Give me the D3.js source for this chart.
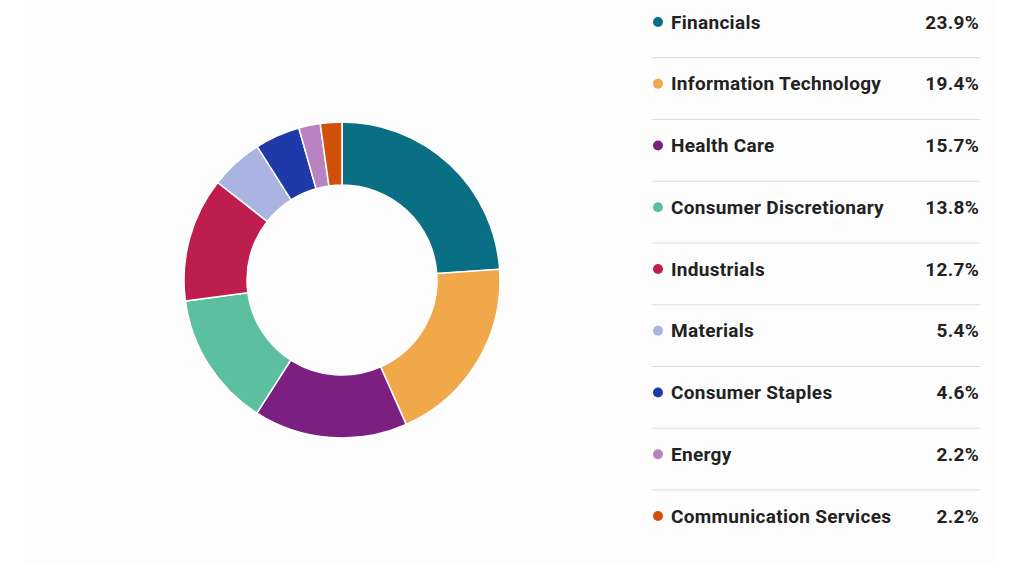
<!DOCTYPE html>
<html>
<head>
<meta charset="utf-8">
<script src="https://cdn.jsdelivr.net/npm/d3@7"></script>
<style>
  html, body { margin: 0; padding: 0; background: #ffffff; }
  svg { display: block; }
</style>
</head>
<body>
<div id="chart"></div>
<script>
const sectors = ["Financials", "Information Technology", "Health Care", "Consumer Discretionary",
    "Industrials", "Materials", "Consumer Staples", "Energy", "Communication Services"];
const weights = [23.9, 19.4, 15.7, 13.8, 12.7, 5.4, 4.6, 2.2, 2.2];
const colors = ["#0a6e84", "#f0a84a", "#7b1f80", "#5bbfa0", "#be1e4e",
    "#a9b4e0", "#1e3aa8", "#b883c0", "#d0500a"];

const width = 1024, height = 576;

const svg = d3.select("#chart")
    .append("svg")
    .attr("width", width)
    .attr("height", height);

// very faint panel behind everything
svg.append("rect")
    .attr("x", 24).attr("y", 0)
    .attr("width", 974).attr("height", 566)
    .attr("fill", "#fdfdfd");

const color = d3.scaleOrdinal(sectors, colors);

const pie = d3.pie().sort(null).value(d => d.value);
const arc = d3.arc().innerRadius(95).outerRadius(158);

const data = sectors.map((s, i) => ({ name: s, value: weights[i] }));

svg.append("g")
    .attr("transform", "translate(342,280)")
    .selectAll("path")
    .data(pie(data))
    .join("path")
    .attr("d", arc)
    .attr("fill", d => color(d.data.name))
    .attr("stroke", "#ffffff")
    .attr("stroke-width", 1.5);

// legend table
const rowY = d3.scalePoint(sectors, [22, 516]);

const legend = svg.append("g").attr("class", "legend");

legend.selectAll("line")
    .data(sectors.slice(1))
    .join("line")
    .attr("x1", 652).attr("x2", 980)
    .attr("y1", d => rowY(d) - 26).attr("y2", d => rowY(d) - 26)
    .attr("stroke", "#dcdcdc")
    .attr("stroke-width", 1.2);

const row = legend.selectAll("g.row")
    .data(data)
    .join("g")
    .attr("class", "row")
    .attr("transform", d => `translate(0,${rowY(d.name)})`);

row.append("circle")
    .attr("cx", 658).attr("cy", 0).attr("r", 5)
    .attr("fill", d => color(d.name));

row.append("text")
    .attr("x", 671).attr("dy", "0.35em")
    .attr("font-family", "Roboto, 'Noto Sans', sans-serif")
    .attr("font-weight", 700)
    .attr("font-size", 19)
    .attr("letter-spacing", 0.3)
    .attr("fill", "#222")
    .text(d => d.name);

row.append("text")
    .attr("x", 979).attr("dy", "0.35em")
    .attr("text-anchor", "end")
    .attr("font-family", "Roboto, 'Noto Sans', sans-serif")
    .attr("font-weight", 700)
    .attr("font-size", 19)
    .attr("letter-spacing", 0.3)
    .attr("fill", "#222")
    .text(d => d3.format(".1f")(d.value) + "%");
</script>
</body>
</html>
